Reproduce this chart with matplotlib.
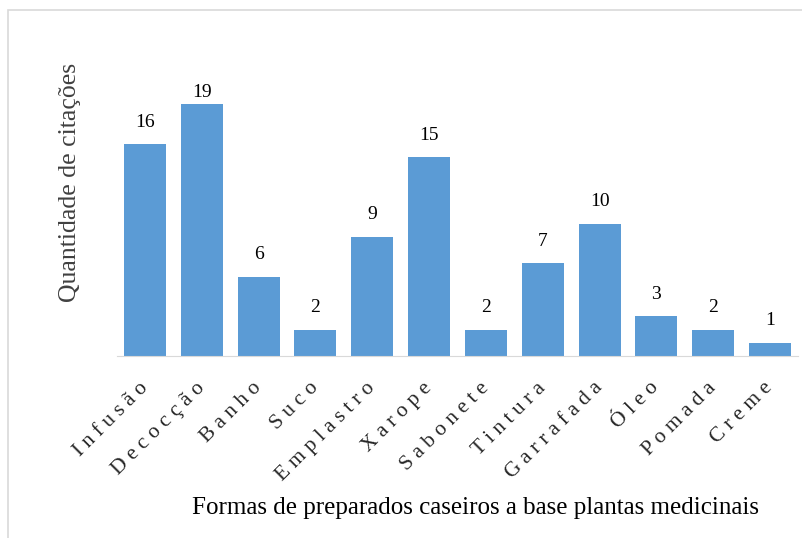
import matplotlib.pyplot as plt
from matplotlib.patches import Rectangle

# formas de preparo e numero de citacoes
formas = ['Infusão', 'Decocção', 'Banho', 'Suco', 'Emplastro', 'Xarope',
          'Sabonete', 'Tintura', 'Garrafada', 'Óleo', 'Pomada', 'Creme']
citacoes = [16, 19, 6, 2, 9, 15, 2, 7, 10, 3, 2, 1]

plt.rcParams['font.family'] = ['Liberation Serif', 'DejaVu Serif']

fig = plt.figure(figsize=(8.02, 5.38), dpi=100)
ax = fig.add_axes([116.5/802, 1-356/538, 682/802, 265/538])

# moldura cinza clara
fig.patches.append(Rectangle((8/802, -0.1), 1.2, 1-10/538+0.1, transform=fig.transFigure,
                             fill=False, edgecolor='#d9d9d9', linewidth=1.2))

x = range(len(formas))
ax.bar(x, citacoes, width=0.74, color='#5b9bd5')
ax.set_ylim(0, 20)
top = 19.9
for i, v in enumerate(citacoes):
    ax.text(i, min(v + 1.66, top), str(v), ha='center', va='center', fontsize=14)

ax.set_xlim(-0.5, len(formas) - 0.5)
ax.set_yticks([])
ax.set_xticks(list(x))
ax.set_xticklabels([' '.join(f) for f in formas], rotation=45, ha='right', va='center',
                   rotation_mode='anchor', fontsize=15.5, color='#262626')
ax.tick_params(axis='x', length=0, pad=21)
for s in ['top', 'right', 'left']:
    ax.spines[s].set_visible(False)
ax.spines['bottom'].set_color('#d9d9d9')

fig.text(70/802, 1-182/538, 'Quantidade de citações', rotation=90,
         ha='center', va='center', fontsize=18.5, color='#404040')
fig.text(476/802, 1-508/538, 'Formas de preparados caseiros a base plantas medicinais',
         ha='center', va='center', fontsize=18, color='#000000')

fig.savefig('out.png', dpi=100)
